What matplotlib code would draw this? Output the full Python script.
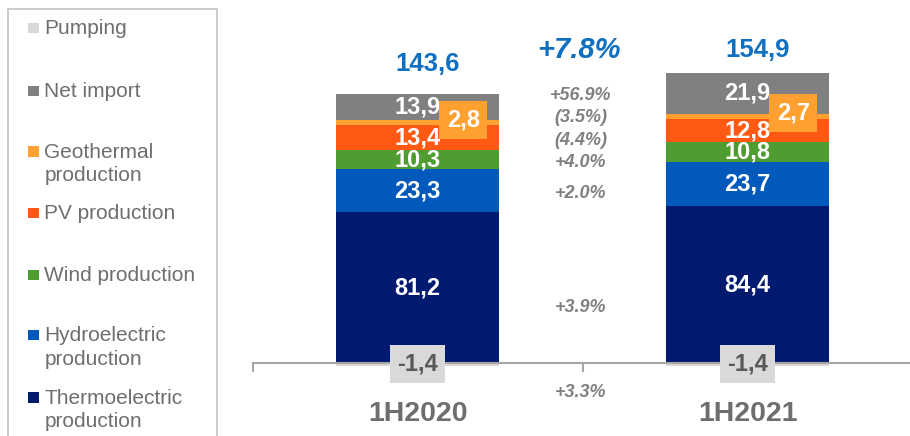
import matplotlib
matplotlib.use('Agg')
import matplotlib.pyplot as plt
from matplotlib.patches import Rectangle

plt.rcParams['font.family'] = ['Liberation Sans', 'DejaVu Sans']

# dati (TWh)
periods = ['1H2020', '1H2021']
thermo = [81.2, 84.4]
hydro = [23.3, 23.7]
wind = [10.3, 10.8]
pv = [13.4, 12.8]
geo = [2.8, 2.7]
net_import = [13.9, 21.9]
pumping = [-1.4, -1.4]
totals = [143.6, 154.9]
changes = ['+56.9%', '(3.5%)', '(4.4%)', '+4.0%', '+2.0%', '+3.9%', '+3.3%']
total_change = '+7.8%'
legend_labels = ['Pumping', 'Net import', 'Geothermal\nproduction', 'PV production',
                 'Wind production', 'Hydroelectric\nproduction', 'Thermoelectric\nproduction']

# layout
change_y = [144.2, 132.1, 120.2, 108.0, 91.5, 29.9, -15.9]
total_y = [161.3, 168.9]
legend_y = [28, 91, 151.7, 213, 275, 335, 397.7]  # pixel dall'alto

c_thermo = '#001a70'
c_hydro = '#0059bb'
c_wind = '#4f9d30'
c_pv = '#ff5914'
c_geo = '#ffa030'
c_import = '#808080'
c_pump = '#d9d9d9'
blue = '#0f6fc0'
grey_txt = '#6e6e6e'

W, H = 910, 436
fig = plt.figure(figsize=(W / 100, H / 100), dpi=100)
ax = fig.add_axes([252.5 / W, 0, 657.5 / W, 1])
ax.set_xlim(-0.5, 1.4924)
ax.set_ylim(-39.35, 195.7)


def fmt(v):
    return '{:.1f}'.format(v).replace('.', ',')


x = range(len(periods))
series = [(thermo, c_thermo), (hydro, c_hydro), (wind, c_wind),
          (pv, c_pv), (geo, c_geo), (net_import, c_import)]
bottom = [0.0, 0.0]
for vals, col in series:
    ax.bar(x, vals, width=0.494, bottom=bottom, color=col, zorder=2)
    for i, v in enumerate(vals):
        yc = bottom[i] + v / 2
        if vals is geo:
            ax.text(i + 0.139, yc + 1.6, fmt(v), ha='center', va='center', fontsize=17,
                    fontweight='bold', color='white', zorder=5,
                    bbox=dict(boxstyle='square,pad=0.32', fc=c_geo, ec='none'))
        else:
            ax.text(i, yc, fmt(v), ha='center', va='center', fontsize=17,
                    fontweight='bold', color='white', zorder=4)
    bottom = [b + v for b, v in zip(bottom, vals)]

ax.bar(x, pumping, width=0.494, color=c_pump, zorder=2)
for i, v in enumerate(pumping):
    ax.text(i, v / 2, fmt(v), ha='center', va='center', fontsize=17, fontweight='bold',
            color='#595959', zorder=5,
            bbox=dict(boxstyle='square,pad=0.31', fc=c_pump, ec='none'))

for i, t in enumerate(totals):
    ax.text(i + 0.03, total_y[i], fmt(t), ha='center', va='center', fontsize=18.5,
            fontweight='bold', color=blue)

ax.text(0.49, 168.6, total_change, ha='center', va='center', fontsize=21,
        fontweight='bold', fontstyle='italic', color=blue)
for lab, yy in zip(changes, change_y):
    ax.text(0.495, yy, lab, ha='center', va='center', fontsize=13,
            fontweight='bold', fontstyle='italic', color='#808080')

# asse
for s in ['left', 'right', 'top']:
    ax.spines[s].set_visible(False)
ax.spines['bottom'].set_position(('data', 0))
ax.spines['bottom'].set_color('#a6a6a6')
ax.spines['bottom'].set_linewidth(1.5)
ax.spines['bottom'].set_zorder(3)
ax.set_yticks([])
ax.set_xticks(list(x), periods)
ax.set_xticks([-0.5, 0.5], minor=True)
ax.tick_params(which='major', length=0, pad=27, labelsize=20.5, labelcolor=grey_txt)
ax.tick_params(which='minor', length=6.5, width=1.5, color='#a6a6a6', direction='out')
for t in ax.get_xticklabels():
    t.set_fontweight('bold')
ax.patch.set_alpha(0)

# legenda
fig.add_artist(Rectangle((8.3 / W, -0.05), 209 / W, (H + 30 - 8.3) / H - 0.02,
                         transform=fig.transFigure, fill=False, ec='#bfbfbf', lw=1.1))
leg_colors = [c_pump, c_import, c_geo, c_pv, c_wind, c_hydro, c_thermo]
for lab, col, yc in zip(legend_labels, leg_colors, legend_y):
    fig.add_artist(Rectangle((28.3 / W, (H - yc - 5.3) / H), 10.6 / W, 10.6 / H,
                             transform=fig.transFigure, color=col, lw=0))
    for k, line in enumerate(lab.split('\n')):
        fig.text(44.3 / W, (H - (yc + 6.3 + 23.3 * k)) / H, line, ha='left',
                 va='baseline', fontsize=15, color=grey_txt)

fig.savefig('out.png', dpi=100)
